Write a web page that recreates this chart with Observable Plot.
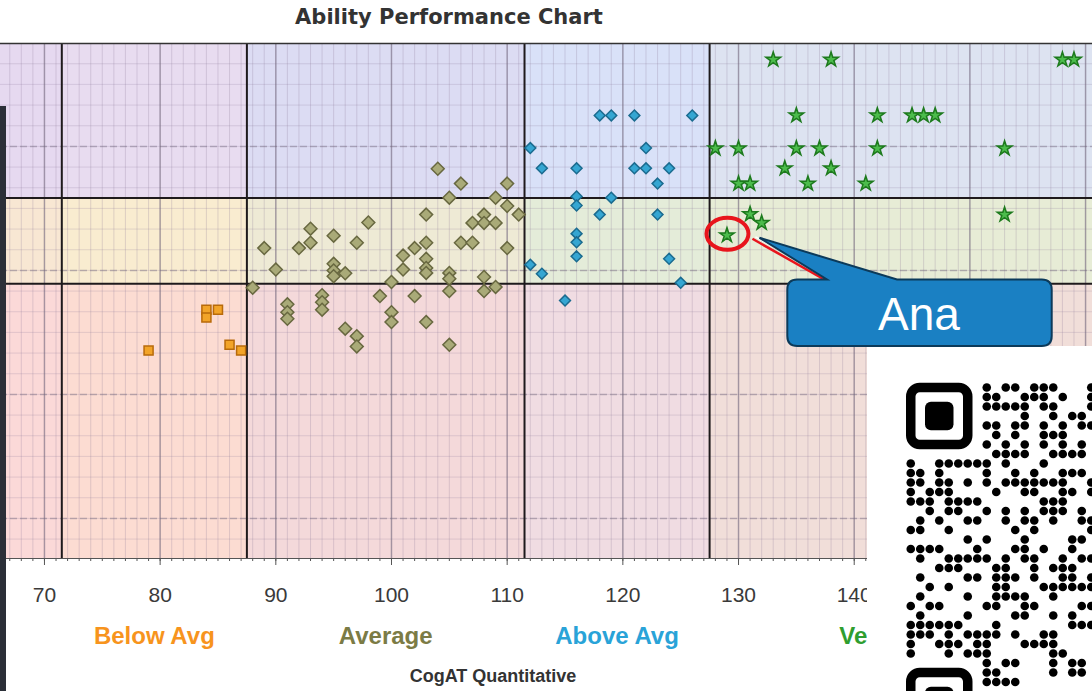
<!DOCTYPE html>
<html>
<head>
<meta charset="utf-8">
<script src="https://cdn.jsdelivr.net/npm/d3@7"></script>
<script src="https://cdn.jsdelivr.net/npm/@observablehq/plot@0.6"></script>
<style>
  html, body { margin: 0; padding: 0; background: #fff; }
  body { width: 1092px; height: 691px; overflow: hidden; position: relative; }
  #chart { position: absolute; left: 0; top: 0; }
  #title { position: absolute; left: 0; top: 5px; width: 898px; text-align: center;
           font: bold 21px "DejaVu Sans", sans-serif; color: #333; }
  #xlabel { position: absolute; left: 0; top: 666px; width: 986px; text-align: center;
           font: bold 18px "Liberation Sans", Arial, sans-serif; color: #333; }
  #strip { position: absolute; left: 0; top: 106px; width: 6px; height: 585px; background: #2b2f38; }
  #overlay { position: absolute; left: 0; top: 0; pointer-events: none; }
</style>
</head>
<body>
<div id="chart"></div>
<div id="title">Ability Performance Chart</div>
<div id="xlabel">CogAT Quantitative</div>
<div id="strip"></div>
<script>
// ---------- data (x = CogAT Quantitative score, y = achievement score) ----------
const belowAvg = [[84,110.5],[85,110.5],[84,108.6],[79,100.6],[86,102.0],[87,100.6]];
const average = [
  [88,115.8],[89,125.4],[90,120.2],[92,125.4],[93,130.1],[93,126.7],[95,128.4],[97,126.7],[98,131.6],
  [95,121.6],[95,120.0],[95,118.6],[96,119.3],[91,111.8],[91,109.9],[91,108.3],[94,114.0],[94,112.3],
  [94,110.5],[96,105.9],[97,104.1],[97,101.6],[99,113.8],[100,117.2],[100,109.9],[100,107.5],
  [104,144.6],[106,141.0],[110,141.0],[105,137.6],[109,137.6],[110,135.6],[111,133.5],[103,133.5],
  [108,133.5],[107,131.5],[108,131.5],[109,131.5],[106,126.7],[107,126.7],[110,125.4],[102,125.4],
  [103,126.7],[101,123.6],[103,122.8],[101,120.2],[103,120.6],[103,119.4],[105,119.4],[105,118.0],
  [108,118.4],[108,115.0],[109,116.0],[105,115.0],[102,113.8],[103,107.5],[105,102.0]
];
const aboveAvg = [
  [118,157.5],[119,157.5],[121,157.5],[126,157.5],[112,149.6],[122,149.6],[113,144.7],[116,144.7],
  [121,144.7],[122,144.7],[124,144.7],[123,141.0],[116,137.9],[119,137.6],[116,135.7],[118,133.5],
  [123,133.5],[116,128.9],[116,126.8],[116,123.4],[124,122.8],[112,121.4],[113,119.2],[125,117.0],[115,112.7]
];
const veryHigh = [
  [133,171.0],[138,171.0],[158,171.0],[159,171.0],[135,157.5],[142,157.5],[145,157.5],[146,157.5],
  [147,157.5],[128,149.5],[130,149.5],[135,149.5],[137,149.5],[142,149.5],[153,149.5],[134,144.7],
  [138,144.7],[130,141.0],[131,141.0],[136,141.0],[141,141.0],[131,133.6],[132,131.5],[129,128.5],[153,133.5]
];
const highlighted = {name: "Ana", x: 129, y: 128.5};

const xDomain = [66.2, 160.6];
const yDomain = [50.3, 174.9];
const xBreaks = [71.5, 87.5, 111.5, 127.5];
const yBreaks = [116.8, 137.5];
const xMajor = [70, 80, 90, 100, 110, 120, 130, 140, 150, 160];
const xTickLabels = [70, 80, 90, 100, 110, 120, 130, 140, 150];
const yMajor = [60, 90, 120, 150];

const tierNames = ["Below Avg", "Average", "Above Avg", "Very High"];
const tierFrom = [71.5, 87.5, 111.5, 127.5];
const tierTo = [87.5, 111.5, 127.5, 159.5];
const tierColors = ["#f7941d", "#7b7b45", "#29a3d8", "#2f9e2f"];

// background colours: rows (bottom, middle, top) x columns
const cellColors = [
  ["#fbd9d8", "#fcdcd2", "#f4d9da", "#f0dce2", "#f1ded9"],
  ["#f8e7d3", "#f9ecd0", "#eeead5", "#e4ecd9", "#e7ecd6"],
  ["#e6d9f0", "#e8dcf0", "#dcdcf3", "#d9e1f8", "#dde3f1"]
];

// ---------- build ----------
const colEdges = [xDomain[0], ...xBreaks, xDomain[1]];
const rowEdges = [yDomain[0], ...yBreaks, yDomain[1]];
const cells = [];
for (let r = 0; r < 3; r++) for (let c = 0; c < 5; c++)
  cells.push({x1: colEdges[c], x2: colEdges[c + 1], y1: rowEdges[r], y2: rowEdges[r + 1], fill: cellColors[r][c]});
const tiers = tierNames.map((n, i) => ({name: n, center: (tierFrom[i] + tierTo[i]) / 2, color: tierColors[i]}));
const toObj = a => a.map(([x, y]) => ({x, y}));

const minorX = d3.range(67, 161);
const minorY = d3.range(55, 175, 5);

const plot = Plot.plot({
  width: 1092, height: 691,
  marginTop: 43, marginBottom: 133, marginLeft: 0, marginRight: 0,
  x: {domain: xDomain},
  y: {domain: yDomain, axis: null},
  style: {fontFamily: "Liberation Sans, Arial, sans-serif", fontSize: "21px", background: "transparent", overflow: "visible"},
  marks: [
    Plot.rect(cells, {x1: "x1", x2: "x2", y1: "y1", y2: "y2", fill: "fill"}),
    Plot.ruleX(minorX, {stroke: "#8a7896", strokeOpacity: 0.25}),
    Plot.ruleY(minorY, {stroke: "#8a7896", strokeOpacity: 0.22}),
    Plot.ruleX(xMajor, {stroke: "#6e6478", strokeOpacity: 0.5, strokeWidth: 1.5}),
    Plot.ruleY(yMajor, {stroke: "#6e6478", strokeOpacity: 0.4, strokeWidth: 1.5, strokeDasharray: "7,3"}),
    Plot.ruleX(xBreaks, {stroke: "#1e1a1c", strokeWidth: 2}),
    Plot.ruleY(yBreaks, {stroke: "#1e1a1c", strokeWidth: 2}),
    Plot.frame({anchor: "top", stroke: "#333", strokeWidth: 1.5}),
    Plot.frame({anchor: "bottom", stroke: "#555", strokeWidth: 1}),
    Plot.axisX(minorX, {tickSize: 3, tickFormat: () => "", stroke: "#555"}),
    Plot.axisX(xTickLabels, {tickSize: 7, tickPadding: 22, tickFormat: d => String(d), stroke: "#555", fill: "#3a3a3a", label: null}),
    Plot.dot(toObj(belowAvg), {x: "x", y: "y", symbol: "square", r: 5.1, fill: "#f2a428", stroke: "#b86a0a", strokeWidth: 1.5}),
    Plot.dot(toObj(average), {x: "x", y: "y", symbol: "diamond2", r: 5.8, fill: "#a9aa78", stroke: "#686840", strokeWidth: 1.5}),
    Plot.dot(toObj(aboveAvg), {x: "x", y: "y", symbol: "diamond2", r: 4.9, fill: "#35a6d2", stroke: "#1b6b8f", strokeWidth: 1.5}),
    Plot.dot(toObj(veryHigh), {x: "x", y: "y", symbol: "star", r: 4.6, fill: "#4cbc4c", stroke: "#1d7a1d", strokeWidth: 1.5}),
    Plot.text(tiers, {x: "center", frameAnchor: "bottom", dy: 85, text: "name", fill: "color",
      fontWeight: "bold", fontSize: 24})
  ]
});
document.getElementById("chart").appendChild(plot);

// ---------- overlay: highlight callout and QR card ----------
const sx = plot.scale("x"), sy = plot.scale("y");
const ax = sx.apply(highlighted.x), ay = sy.apply(highlighted.y);

// QR pattern: dark modules per row (columns beyond finder area), 9.5px modules
const qrRows = [
  [8,10,11,13,14,15,19],[8,9,12,13,14,16,19],[8,9,10,11,12,14,15,19],[12,15,17,18],
  [8,9,11,12,14,16,18,19],[9,11,14,15,16],[8,10,12,14,16,18],[9,10,11,12,15,16,17,18],
  [0,3,4,5,6,7,8,10,14],[0,1,3,8,11,13,16,17,18],[0,1,3,4,6,8,10,11,12,13,14,15,16,19],
  [0,2,3,4,9,12,13,16,17,19],[0,1,2,4,5,6,7,14,15,16],[2,4,5,8,10,12,14,15,16,18],
  [1,3,6,7,10,12,13,15,18,19],[0,1,4,11,13,19],[6,8,12,17,18],[0,1,2,3,7,11,12,14,17],
  [1,4,5,6,7,8,10,12,13,16,18,19],[3,4,5,9,10,13,15,16,17],[1,6,7,9,10,11,13,16,17,19],
  [2,4,9,10,14,15,16,17,18,19],[1,6,9,10,11,12,15],[0,2,3,8,9,12,13,18,19],[1,6,11,12,15,17],
  [0,1,2,3,4,5,9,17,18,19],[0,1,2,4,6,7,8,9,11,14,15],[0,3,4,5,7,8,12,13,14,15],
  [0,4,6,7,8,15,16],[8,10,11,15,17,18],[8,9,15,17,18],[8,9,10,11]
];
const qrModule = 9.5, qrX = 906, qrY = 382.7;

const ov = d3.select("body").append("svg").attr("id", "overlay").attr("width", 1092).attr("height", 691);
// QR card
ov.append("rect").attr("x", 867).attr("y", 346).attr("width", 225).attr("height", 345).attr("fill", "#fff");
const finder = (col, row) => {
  const fx = qrX + col * qrModule, fy = qrY + row * qrModule;
  ov.append("rect").attr("x", fx + qrModule / 2).attr("y", fy + qrModule / 2)
    .attr("width", qrModule * 6).attr("height", qrModule * 6).attr("rx", 9)
    .attr("fill", "none").attr("stroke", "#000").attr("stroke-width", qrModule);
  ov.append("rect").attr("x", fx + qrModule * 2).attr("y", fy + qrModule * 2)
    .attr("width", qrModule * 3).attr("height", qrModule * 3).attr("rx", 6).attr("fill", "#000");
};
finder(0, 0);
finder(0, 30);
qrRows.forEach((cols, r) => cols.forEach(c => {
  ov.append("circle").attr("cx", qrX + (c + 0.5) * qrModule).attr("cy", qrY + (r + 0.5) * qrModule)
    .attr("r", 4.3).attr("fill", "#000");
}));

// highlight ring
ov.append("ellipse").attr("cx", ax + 1).attr("cy", ay - 1).attr("rx", 21).attr("ry", 16)
  .attr("fill", "none").attr("stroke", "#e8141c").attr("stroke-width", 4);
// leader lines
ov.append("line").attr("x1", ax + 26).attr("y1", ay + 4).attr("x2", 826).attr("y2", 280.5)
  .attr("stroke", "#e8141c").attr("stroke-width", 2.5);
ov.append("line").attr("x1", ax + 29).attr("y1", ay + 2).attr("x2", 829).attr("y2", 278.5)
  .attr("stroke", "#fff").attr("stroke-width", 1.5);
// callout box with pointer
const bx1 = 787.3, bx2 = 1051.7, by1 = 279.5, by2 = 346, rr = 10;
const tipX = ax + 33, tipY = ay + 3;
const path = `M${bx1 + rr},${by1} L827,${by1} L${tipX},${tipY} L897,${by1} L${bx2 - rr},${by1}
  Q${bx2},${by1} ${bx2},${by1 + rr} L${bx2},${by2 - rr} Q${bx2},${by2} ${bx2 - rr},${by2}
  L${bx1 + rr},${by2} Q${bx1},${by2} ${bx1},${by2 - rr} L${bx1},${by1 + rr} Q${bx1},${by1} ${bx1 + rr},${by1} Z`;
ov.append("path").attr("d", path).attr("fill", "#1a80c3").attr("stroke", "#0c3a5a").attr("stroke-width", 2);
ov.append("text").attr("x", 919).attr("y", 330).attr("text-anchor", "middle")
  .attr("font-family", "Liberation Sans, Arial, sans-serif").attr("font-size", 46).attr("fill", "#fff")
  .text(highlighted.name);
</script>
</body>
</html>
